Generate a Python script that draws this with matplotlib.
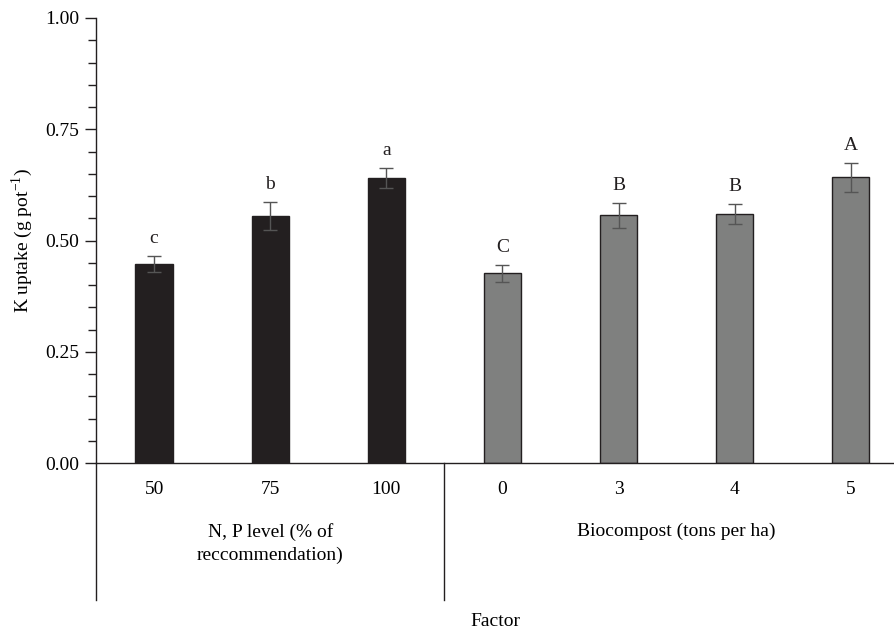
import matplotlib
matplotlib.use("Agg")
import matplotlib.pyplot as plt
from matplotlib.ticker import MultipleLocator, FormatStrFormatter

plt.rcParams['font.family'] = ['Liberation Serif', 'DejaVu Serif']

# Data
tick_labels = ["50", "75", "100", "0", "3", "4", "5"]
values = [0.447, 0.555, 0.640, 0.426, 0.557, 0.560, 0.642]
errors = [0.018, 0.031, 0.023, 0.020, 0.028, 0.023, 0.032]
letters = ["c", "b", "a", "C", "B", "B", "A"]
groups = ["N, P level (% of\nreccommendation)", "Biocompost (tons per ha)"]
group_sizes = [3, 4]
group_colors = ["#231f20", "#7f807f"]

FS = 14

colors = []
for c, n in zip(group_colors, group_sizes):
    colors += [c] * n
x = list(range(len(values)))

fig = plt.figure(figsize=(8.95, 6.35), dpi=100)
ax = fig.add_axes([96 / 895, 1 - 463 / 635, 799 / 895, 445 / 635])

ax.bar(x, values, width=0.32, color=colors, edgecolor="#231f20", linewidth=1.0, zorder=2)
ax.errorbar(x, values, yerr=errors, fmt="none", ecolor="#555555", elinewidth=1.0,
            capsize=5, capthick=1.0, zorder=3)

for xi, v, e, t in zip(x, values, errors, letters):
    ax.text(xi, v + e + 0.029, t, ha="center", va="baseline", fontsize=FS, color="#231f20")

ax.set_xlim(-0.5, 6.38)
ax.set_ylim(0, 1.0)
ax.yaxis.set_major_locator(MultipleLocator(0.25))
ax.yaxis.set_minor_locator(MultipleLocator(0.05))
ax.yaxis.set_major_formatter(FormatStrFormatter("%.2f"))
ax.tick_params(axis="y", which="major", length=8, width=1.0, labelsize=FS, color="#231f20", pad=4)
ax.tick_params(axis="y", which="minor", length=6, width=1.0, color="#231f20")
ax.set_xticks(x)
ax.set_xticklabels(tick_labels)
ax.tick_params(axis="x", length=0, labelsize=FS, pad=13)

for side in ["top", "right"]:
    ax.spines[side].set_visible(False)
for side in ["left", "bottom"]:
    ax.spines[side].set_color("#231f20")
    ax.spines[side].set_linewidth(1.0)

ax.set_ylabel("K uptake (g pot$^{\\mathregular{-1}}$)", fontsize=FS, labelpad=7)

# Group separators and group labels below the axis
trans = ax.get_xaxis_transform()
y_bottom = -(600 - 463) / 445
start = 0
bounds = [-0.5]
for n in group_sizes:
    bounds.append(start + n - 0.5)
    start += n
for b in bounds[:-1]:
    ax.plot([b, b], [0, y_bottom], color="#231f20", lw=1.0, transform=trans, clip_on=False)

start = 0
for g, n in zip(groups, group_sizes):
    center = start + (n - 1) / 2
    ax.text(center, -(523 - 463) / 445, g, ha="center", va="top", fontsize=FS,
            transform=trans, linespacing=1.4)
    start += n

fig.text(495.5 / 895, 1 - 622 / 635, "Factor", ha="center", va="center", fontsize=FS)

fig.savefig("out.png", dpi=100)
